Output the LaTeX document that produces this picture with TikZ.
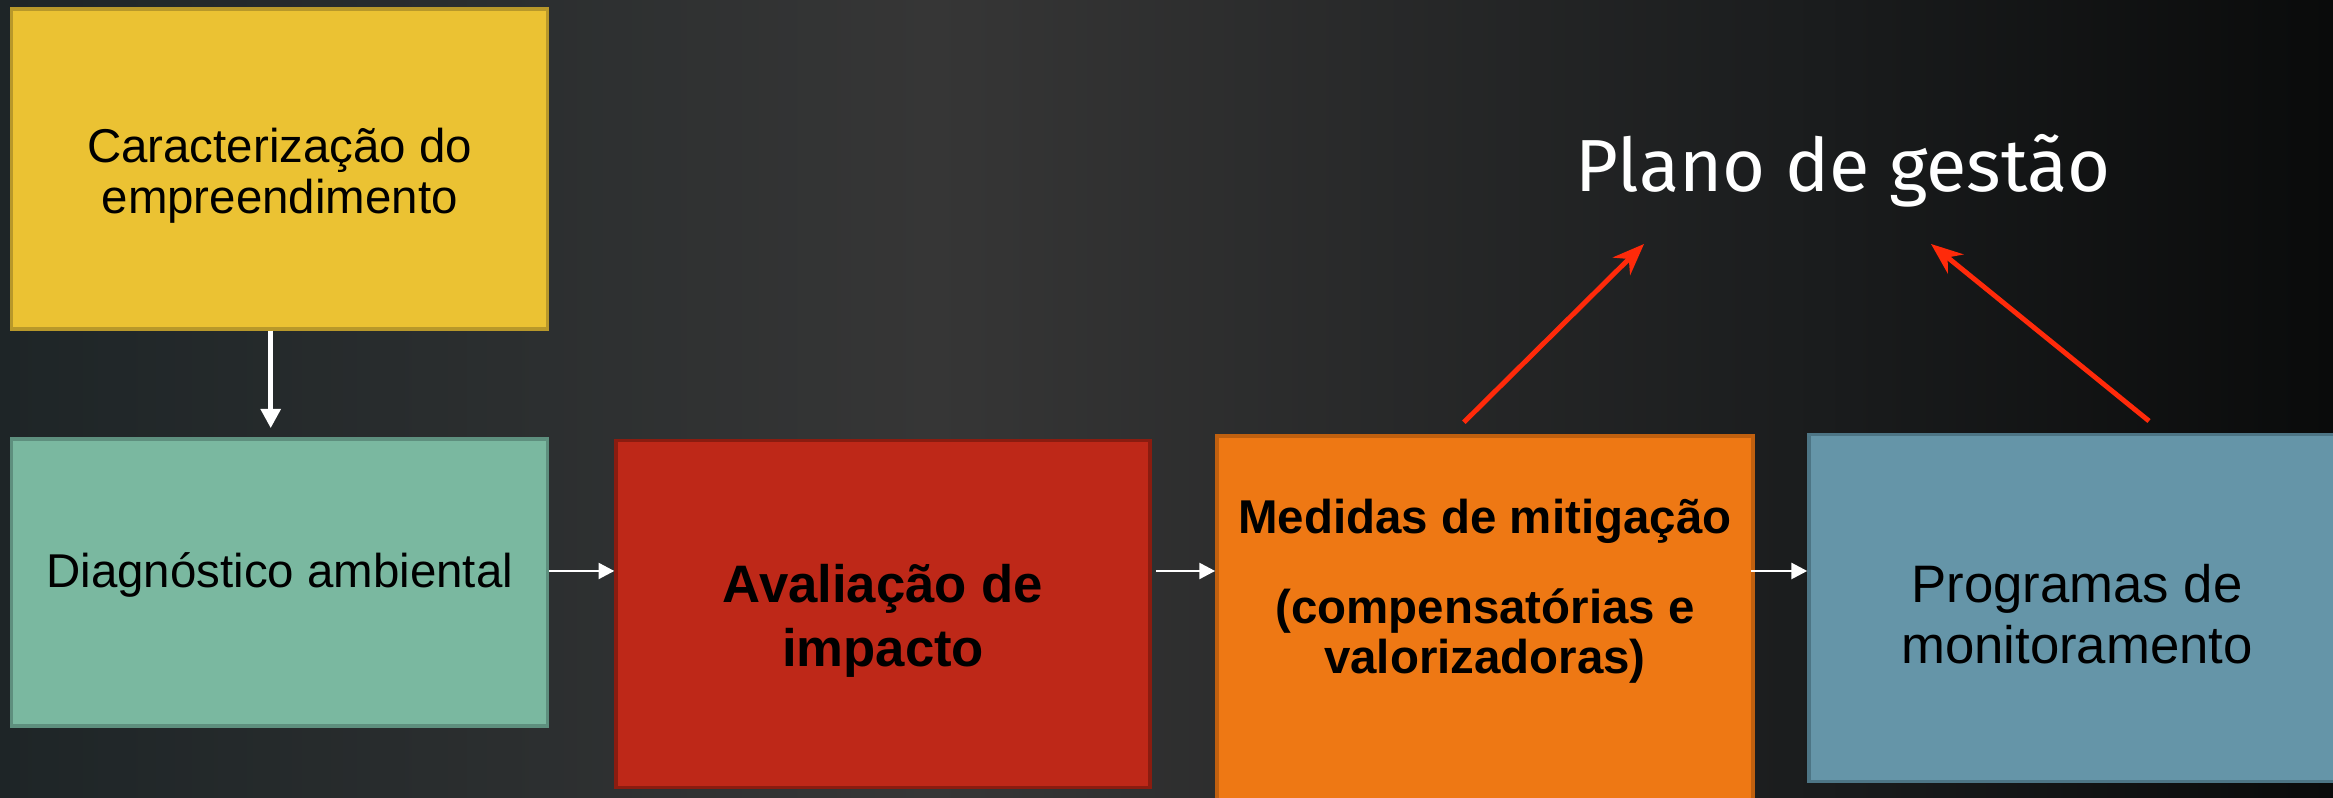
\documentclass[tikz,border=0pt]{standalone}
\usepackage{fontspec}
\setmainfont{Liberation Sans}
\newfontfamily\planofont{Fira Sans}
\usetikzlibrary{arrows.meta}
\definecolor{bgl}{HTML}{1E2527}
\definecolor{bgm}{HTML}{363636}
\definecolor{bgd}{HTML}{1A1C1D}
\definecolor{bgr}{HTML}{0A0B0B}
\definecolor{yelfill}{HTML}{EBC233}
\definecolor{yeldraw}{HTML}{B8982A}
\definecolor{grnfill}{HTML}{7AB8A0}
\definecolor{grndraw}{HTML}{5E8F7E}
\definecolor{redfill}{HTML}{BE2818}
\definecolor{reddraw}{HTML}{8A1C10}
\definecolor{orgfill}{HTML}{EE7814}
\definecolor{orgdraw}{HTML}{C0600F}
\definecolor{blufill}{HTML}{6595A8}
\definecolor{bludraw}{HTML}{4D7585}
\definecolor{redline}{HTML}{FF2A0A}
\pgfdeclarehorizontalshading{bgshade}{100bp}{color(0bp)=(bgl); color(25bp)=(bgl); color(45bp)=(bgm); color(64bp)=(bgd); color(75bp)=(bgr); color(100bp)=(bgr)}
\begin{document}
\begin{tikzpicture}[
    box/.style={draw, line width=1pt, inner sep=0pt, minimum width=5.36cm},
    boxtxt/.style={align=center, text=black},
    whitearrow/.style={draw=white, line width=0.8pt, -{Triangle[length=4.5pt,width=4.5pt]}},
    redarrow/.style={draw=redline, line width=1.4pt, -{Stealth[length=9pt,width=7pt]}}
  ]
  \useasboundingbox (0,0) rectangle (23.33,7.98);
  \shade[shading=bgshade] (0,0) rectangle (23.33,7.98);

  % caixas
  \node[box, fill=yelfill, draw=yeldraw, minimum height=3.2cm,
    label={[name=caractxt, boxtxt, yshift=-0.7mm, font=\fontsize{13.5}{14.5}\selectfont]center:Caracterização do\\empreendimento}] (yel) at (2.797,6.291) {};
  \node[box, fill=grnfill, draw=grndraw, minimum height=2.87cm,
    label={[name=diagtxt, boxtxt, yshift=0.8mm, font=\fontsize{13.5}{14.5}\selectfont]center:Diagnóstico ambiental}] (diag) at (2.797,2.155) {};
  \node[box, fill=redfill, draw=reddraw, minimum width=5.34cm, minimum height=3.47cm,
    label={[name=avaltxt, boxtxt, yshift=-0.7mm, font=\bfseries\fontsize{15}{18.2}\selectfont]center:Avaliação de\\impacto}] (aval) at (8.831,1.842) {};
  \node[box, fill=orgfill, draw=orgdraw, minimum height=3.87cm,
    label={[name=mitigtxt, boxtxt, yshift=3.85mm, font=\bfseries\fontsize{13.5}{14}\selectfont]center:Medidas de mitigação\\[11.8pt](compensatórias e\\valorizadoras)}] (orng) at (14.849,1.685) {};
  \node[box, fill=blufill, draw=bludraw, minimum height=3.47cm,
    label={[name=progtxt, boxtxt, yshift=-0.6mm, font=\fontsize{15}{17.3}\selectfont]center:Programas de\\monitoramento}] (prog) at (20.77,1.902) {};

  \node[text=white, anchor=base, font=\planofont\fontsize{21}{24}\selectfont] (plano) at (18.43,6.06) {Plano de gestão};

  % setas
  \coordinate (ay) at (0,2.27);
  \draw[whitearrow, line width=1.5pt, -{Triangle[length=5.5pt,width=5.5pt]}] ([xshift=-0.9mm]yel.south) -- ([xshift=-0.9mm,yshift=0.9mm]diag.north);
  \draw[whitearrow] (diag.east |- ay) -- (aval.west |- ay);
  \draw[whitearrow] ([xshift=0.4mm]aval.east |- ay) -- (orng.west |- ay);
  \draw[whitearrow] ([xshift=-0.4mm]orng.east |- ay) -- (prog.west |- ay);

  \coordinate (pl) at (16.44,5.54);
  \coordinate (pr) at (19.31,5.54);
  \draw[redarrow] ([xshift=-2.1mm,yshift=1.2mm]orng.north) -- (pl);
  \draw[redarrow] ([xshift=7.2mm,yshift=1.15mm]prog.north) -- (pr);
\end{tikzpicture}
\end{document}
